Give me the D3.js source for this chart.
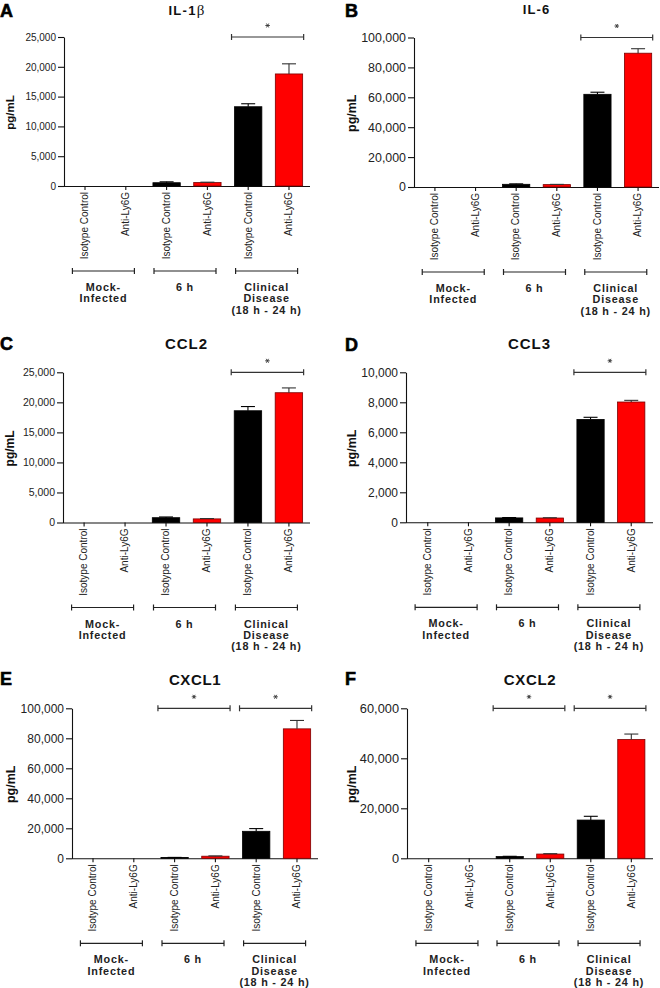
<!DOCTYPE html>
<html><head><meta charset="utf-8">
<script src="https://cdn.jsdelivr.net/npm/d3@7"></script>
<style>
body{margin:0;background:#fff;}
svg{display:block;font-family:"Liberation Sans",Arial,Helvetica,sans-serif;}
</style></head>
<body>
<svg id="chart" width="660" height="988"></svg>
<script>
// ---- data ----
const categories = ["Isotype Control","Anti-Ly6G","Isotype Control","Anti-Ly6G","Isotype Control","Anti-Ly6G"];
const groupLabels = [["Mock-","Infected"],["6 h"],["Clinical","Disease","(18 h - 24 h)"]];
const titles = ["IL-1","IL-6","CCL2","CCL3","CXCL1","CXCL2"];
const panelLetters = ["A","B","C","D","E","F"];
const il1bMean  = [0,0,550,580,13300,18800];
const il1bErr   = [0,0,150,60,500,1700];
const il6Mean   = [0,0,1800,1600,62000,89500];
const il6Err    = [0,0,300,150,1400,3000];
const ccl2Mean  = [0,0,800,600,18600,21600];
const ccl2Err   = [0,0,120,60,700,800];
const ccl3Mean  = [0,0,293,285,6860,8020];
const ccl3Err   = [0,0,25,20,140,110];
const cxcl1Mean = [0,0,500,1400,18000,86300];
const cxcl1Err  = [0,0,100,200,1800,5600];
const cxcl2Mean = [0,0,700,1700,15300,47500];
const cxcl2Err  = [0,0,100,150,1500,2200];
const yMax   = [25000,100000,25000,10000,100000,60000];
const yStep  = [5000,20000,5000,2000,20000,20000];
const sigPairs = [[[4,5]],[[4,5]],[[4,5]],[[4,5]],[[2,3],[4,5]],[[2,3],[4,5]]];

// ---- layout ----
const layout = [
 {mean:il1bMean, err:il1bErr, x0:64,  x1:310, pad:0.18, yTop:37,  yBot:186,  ox:0,   letterY:17,  titleY:15,  tickFs:10,   labFs:11.5,titleFs:13,   titleLs:1.3, lblX:14},
 {mean:il6Mean,  err:il6Err,  x0:414, x1:659, pad:0.18, yTop:37.5,yBot:187,  ox:330, letterY:17,  titleY:14,  tickFs:12.4, labFs:12.5,titleFs:13,   titleLs:1.1, lblX:356},
 {mean:ccl2Mean, err:ccl2Err, x0:63,  x1:310, pad:0.18, yTop:372.3,yBot:522.5,ox:0,  letterY:350, titleY:349, tickFs:10.5, labFs:12,  titleFs:15,   titleLs:0.9, lblX:14},
 {mean:ccl3Mean, err:ccl3Err, x0:406, x1:653, pad:0.20, yTop:372.3,yBot:522.3,ox:330,letterY:350.5,titleY:349, tickFs:12,   labFs:12.5,titleFs:15,   titleLs:0.9, lblX:356},
 {mean:cxcl1Mean,err:cxcl1Err,x0:72,  x1:318, pad:0.18, yTop:708.3,yBot:858.3,ox:0,  letterY:685, titleY:685, tickFs:12,   labFs:12.5,titleFs:15,   titleLs:0.6, lblX:15},
 {mean:cxcl2Mean,err:cxcl2Err,x0:407, x1:653, pad:0.20, yTop:708.3,yBot:858.3,ox:330,letterY:685, titleY:685, tickFs:12.8, labFs:12.5,titleFs:15,   titleLs:0.7, lblX:356}
];

const svg = d3.select("#chart");
const idx = d3.range(categories.length);

layout.forEach((p, k) => {
  const g = svg.append("g");
  const x = d3.scaleBand().domain(idx).range([p.x0, p.x1]).paddingInner(0.33).paddingOuter(p.pad);
  const y = d3.scaleLinear().domain([0, yMax[k]]).range([p.yBot, p.yTop]);
  const bw = x.bandwidth();

  // panel letter
  g.append("text").attr("x", p.ox + (p.ox ? 15 : 0)).attr("y", p.letterY)
    .attr("font-size", 18).attr("font-weight", "bold")
    .attr("stroke", "#000").attr("stroke-width", 0.6).text(panelLetters[k]);

  // title
  const t = g.append("text").attr("x", (p.x0 + p.x1) / 2).attr("y", p.titleY)
    .attr("text-anchor", "middle").attr("font-size", p.titleFs).attr("font-weight", "bold")
    .attr("letter-spacing", p.titleLs).attr("fill", "#111");
  t.append("tspan").text(titles[k]);
  if (k === 0) t.append("tspan").attr("font-family", "'Liberation Serif','DejaVu Serif',serif")
    .attr("font-weight", "normal").attr("font-size", p.titleFs + 2).text("β");

  // y axis
  const ticks = d3.range(0, yMax[k] + 1, yStep[k]);
  const ya = g.append("g").attr("transform", `translate(${p.x0},0)`)
    .call(d3.axisLeft(y).tickValues(ticks).tickFormat(d3.format(",")).tickSize(6).tickSizeOuter(0).tickPadding(2));
  ya.selectAll("text").attr("font-size", p.tickFs).attr("fill", "#222").attr("font-family", "'Liberation Sans',Arial,sans-serif");
  ya.selectAll("line,path").attr("stroke", "#111").attr("stroke-width", 1.1);

  // y label
  g.append("text").attr("transform", `translate(${p.lblX},${(p.yTop + p.yBot) / 2 + 1}) rotate(-90)`)
    .attr("text-anchor", "middle").attr("font-size", p.labFs).attr("font-weight", "bold").attr("fill", "#111")
    .text("pg/mL");

  // x axis
  const xa = g.append("g").attr("transform", `translate(0,${p.yBot})`)
    .call(d3.axisBottom(x).tickFormat(i => categories[i]).tickSize(4).tickSizeOuter(0));
  xa.select(".domain").attr("d", `M${p.x0},0.5H${p.x1}`);
  xa.selectAll("line,path").attr("stroke", "#111").attr("stroke-width", 1.1);
  xa.selectAll("text").attr("transform", "rotate(-90)").attr("text-anchor", "end")
    .attr("x", -6).attr("y", 0).attr("dy", "0.33em").attr("font-size", 10).attr("fill", "#222")
    .attr("font-family", "'Liberation Sans',Arial,sans-serif");

  // bars
  g.selectAll("rect.bar").data(idx.filter(i => p.mean[i] > 0)).join("rect")
    .attr("class", "bar")
    .attr("x", i => x(i)).attr("width", bw)
    .attr("y", i => y(p.mean[i])).attr("height", i => p.yBot - y(p.mean[i]))
    .attr("fill", i => i % 2 ? "#ff0000" : "#000")
    .attr("stroke", i => i % 2 ? "#7a0000" : "#000").attr("stroke-width", 0.8);

  // error bars (upper only)
  const eb = g.selectAll("g.err").data(idx.filter(i => p.mean[i] > 0)).join("g").attr("class", "err")
    .attr("stroke", i => i % 2 ? "#333" : "#000").attr("stroke-width", 1.1);
  eb.append("line").attr("x1", i => x(i) + bw / 2).attr("x2", i => x(i) + bw / 2)
    .attr("y1", i => y(p.mean[i])).attr("y2", i => y(p.mean[i] + p.err[i]));
  eb.append("line").attr("x1", i => x(i) + bw / 2 - 7).attr("x2", i => x(i) + bw / 2 + 7)
    .attr("y1", i => y(p.mean[i] + p.err[i])).attr("y2", i => y(p.mean[i] + p.err[i]));

  // significance brackets
  sigPairs[k].forEach(([a, b]) => {
    const xa0 = x(a) - 3, xb0 = x(b) + bw + 1, yy = p.yTop;
    const s = g.append("g").attr("stroke", "#333").attr("stroke-width", 1.2);
    s.append("line").attr("x1", xa0).attr("x2", xb0).attr("y1", yy).attr("y2", yy);
    s.append("line").attr("x1", xa0).attr("x2", xa0).attr("y1", yy - 3).attr("y2", yy + 3);
    s.append("line").attr("x1", xb0).attr("x2", xb0).attr("y1", yy - 3).attr("y2", yy + 3);
    // asterisk drawn as a symbol
    g.append("path").attr("d", d3.symbol(d3.symbolAsterisk, 14)())
      .attr("transform", `translate(${(xa0 + xb0) / 2},${yy - 11.5}) rotate(90)`)
      .attr("fill", "none").attr("stroke", "#333").attr("stroke-width", 0.9);
  });

  // group brackets & labels
  groupLabels.forEach((lines, gi) => {
    const cx = (x(gi * 2) + x(gi * 2 + 1) + bw) / 2 - 2;
    const by = p.yBot + 85;
    const s = g.append("g").attr("stroke", "#222").attr("stroke-width", 1.2);
    s.append("line").attr("x1", cx - 31).attr("x2", cx + 31).attr("y1", by).attr("y2", by);
    s.append("line").attr("x1", cx - 31).attr("x2", cx - 31).attr("y1", by - 3).attr("y2", by + 3);
    s.append("line").attr("x1", cx + 31).attr("x2", cx + 31).attr("y1", by - 3).attr("y2", by + 3);
    const tx = g.append("text").attr("text-anchor", "middle").attr("font-size", 10.8)
      .attr("font-weight", "bold").attr("letter-spacing", 0.8).attr("fill", "#222");
    lines.forEach((ln, li) => {
      tx.append("tspan").attr("x", cx).attr("y", by + 20 + li * 11.3).text(ln);
    });
  });
});
</script>
</body></html>
